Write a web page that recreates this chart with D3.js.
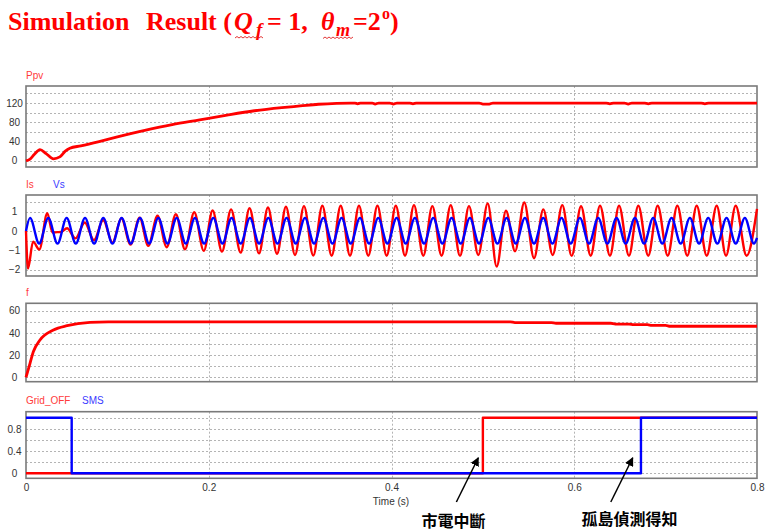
<!DOCTYPE html>
<html><head><meta charset="utf-8">
<script src="https://cdn.jsdelivr.net/npm/d3@7/dist/d3.min.js"></script>
<style>body{margin:0;background:#fff}svg{display:block}</style>
</head><body>
<svg id="c" width="767" height="531"></svg>
<script>
// ---------------- data ----------------
const xTicks = [0, 0.2, 0.4, 0.6, 0.8];
const ppvTicks = [0, 40, 80, 120];
const isTicks = [-2, -1, 0, 1];
const fTicks = [0, 20, 40, 60];
const swTicks = [0, 0.4, 0.8];

const ppvT = [0, 0.004, 0.009, 0.0153, 0.022, 0.030, 0.037, 0.043, 0.048, 0.06, 0.08, 0.10, 0.13, 0.16, 0.19, 0.22, 0.25, 0.28, 0.30, 0.32, 0.34, 0.355, 0.36, 0.363, 0.366, 0.379, 0.382, 0.386, 0.398, 0.402, 0.406, 0.42, 0.4235, 0.427, 0.496, 0.5, 0.507, 0.511, 0.635, 0.639, 0.643, 0.655, 0.659, 0.663, 0.677, 0.681, 0.685, 0.739, 0.743, 0.747, 0.8];
const ppvV = [0, 3, 13, 23, 15, 4, 8, 20, 26, 31, 40, 49.5, 63, 75, 85, 95, 104, 110.5, 114, 117.5, 119.5, 120, 120, 118.5, 120, 120, 118, 120, 120, 118, 120, 120, 118.5, 120, 120, 118, 118, 120, 120, 118.5, 120, 120, 118, 120, 120, 118.5, 120, 120, 118.5, 120, 120];

// Is: extrema (time, value)
const isT = [0, 0.0022, 0.0077, 0.0146, 0.0233, 0.029, 0.034, 0.0383, 0.0449, 0.0542, 0.0643, 0.0744, 0.0845, 0.0946, 0.1044, 0.1144, 0.1244, 0.1338, 0.1439, 0.154, 0.164, 0.174, 0.1841, 0.1946, 0.2042, 0.2145, 0.2244, 0.2349, 0.2446, 0.255, 0.2648, 0.2747, 0.2845, 0.2944, 0.3042, 0.3144, 0.3243, 0.3345, 0.3444, 0.3546, 0.3644, 0.3746, 0.3846, 0.3947, 0.4047, 0.4148, 0.4246, 0.4348, 0.4447, 0.4548, 0.4648, 0.475, 0.4848, 0.495, 0.5053, 0.5151, 0.5253, 0.5352, 0.5453, 0.556, 0.5661, 0.5764, 0.5869, 0.5972, 0.6074, 0.618, 0.6282, 0.6391, 0.649, 0.6599, 0.6701, 0.681, 0.6913, 0.7023, 0.7128, 0.7237, 0.734, 0.745, 0.7559, 0.7661, 0.7767, 0.7886, 0.8];
const isV = [0, -1.95, -0.55, -0.96, 0.92, -0.08, -0.06, -0.05, 0.14, -0.38, 0.44, -0.47, 0.57, -0.6, 0.66, -0.7, 0.69, -0.77, 0.79, -0.84, 0.87, -0.95, 0.97, -1.03, 1.06, -1.07, 1.12, -1.12, 1.18, -1.16, 1.22, -1.18, 1.26, -1.24, 1.29, -1.27, 1.31, -1.28, 1.31, -1.28, 1.31, -1.28, 1.31, -1.28, 1.31, -1.28, 1.34, -1.28, 1.29, -1.28, 1.34, -1.29, 1.29, -1.24, 1.43, -1.84, 1.05, -1.05, 1.48, -1.41, 1.12, -1.24, 1.34, -1.29, 1.28, -1.28, 1.31, -1.28, 1.31, -1.28, 1.31, -1.28, 1.31, -1.28, 1.31, -1.28, 1.31, -1.28, 1.31, -1.28, 1.31, -1.28, 1.15];

// Vs: extrema (time, value)
const vsT = [0, 0.0044, 0.0144, 0.0244, 0.0345, 0.0445, 0.0545, 0.0646, 0.0746, 0.0846, 0.0946, 0.1047, 0.1147, 0.1248, 0.1348, 0.1448, 0.1548, 0.1649, 0.1749, 0.1849, 0.1949, 0.2050, 0.2150, 0.2250, 0.2350, 0.2451, 0.2551, 0.2652, 0.2752, 0.2852, 0.2952, 0.3053, 0.3153, 0.3254, 0.3354, 0.3454, 0.3554, 0.3655, 0.3755, 0.3855, 0.3955, 0.4056, 0.4156, 0.4256, 0.4356, 0.4457, 0.4557, 0.4658, 0.4758, 0.4858, 0.4958, 0.5059, 0.5159, 0.5260, 0.5360, 0.5460, 0.5560, 0.5661, 0.5761, 0.5861, 0.5961, 0.6062, 0.6162, 0.6262, 0.6362, 0.6463, 0.6563, 0.6664, 0.6764, 0.6864, 0.6964, 0.7065, 0.7165, 0.7266, 0.7366, 0.7466, 0.7566, 0.7667, 0.7767, 0.7867, 0.7967, 0.8];
const vsV = [0, 0.68, -0.65, 0.68, -0.65, 0.68, -0.65, 0.68, -0.65, 0.68, -0.65, 0.68, -0.65, 0.68, -0.65, 0.68, -0.65, 0.68, -0.65, 0.68, -0.65, 0.68, -0.65, 0.68, -0.65, 0.68, -0.65, 0.68, -0.65, 0.68, -0.65, 0.68, -0.65, 0.68, -0.65, 0.68, -0.65, 0.68, -0.65, 0.68, -0.65, 0.68, -0.65, 0.68, -0.65, 0.68, -0.65, 0.68, -0.65, 0.68, -0.65, 0.68, -0.65, 0.68, -0.65, 0.68, -0.65, 0.68, -0.65, 0.68, -0.65, 0.68, -0.65, 0.68, -0.65, 0.68, -0.65, 0.68, -0.65, 0.68, -0.65, 0.68, -0.65, 0.68, -0.65, 0.68, -0.65, 0.68, -0.65, 0.68, -0.65, -0.35];

const fT = [0, 0.0044, 0.008, 0.0153, 0.03, 0.045, 0.07, 0.09, 0.53, 0.535, 0.575, 0.58, 0.64, 0.645, 0.66, 0.665, 0.68, 0.685, 0.70, 0.705, 0.8];
const fV = [0, 12.6, 23, 33.6, 42.6, 46.5, 49.5, 50, 50, 49.3, 49.3, 48.7, 48.7, 48, 48, 47.4, 47.4, 46.8, 46.8, 46, 46];

const gridOffT = [0, 0.5, 0.8];
const gridOffV = [0, 1, 1];
const smsT = [0, 0.05, 0.673, 0.8];
const smsV = [1, 0, 1, 1];

const zip = (a, b) => a.map((t, i) => [t, b[i]]);

// ---------------- drawing ----------------
const svg = d3.select("#c");
const x = d3.scaleLinear().domain([0, 0.8]).range([26, 757]);
const RED = "#ff0000", BLUE = "#0000ff";
const labelFont = "'Liberation Sans', Arial, sans-serif";

const panels = [
  {top: 86, bottom: 167, dom: [-13, 155.5], grid: d3.range(0, 141, 20), ticks: ppvTicks,
   labels: [["Ppv", "#ff3b3b", 26]], series: [[zip(ppvT, ppvV), RED, 2.8, d3.curveMonotoneX]]},
  {top: 195, bottom: 276, dom: [-2.33, 1.865], grid: d3.range(-2, 1.6, 0.5), ticks: isTicks,
   labels: [["Is", "#ff3b3b", 26], ["Vs", "#3b3bff", 53]],
   series: [[zip(isT, isV), RED, 2.4, d3.curveMonotoneX], [zip(vsT, vsV), BLUE, 2.4, d3.curveMonotoneX]]},
  {top: 303.3, bottom: 381.7, dom: [-4, 66.7], grid: d3.range(0, 61, 10), ticks: fTicks,
   labels: [["f", "#ff3b3b", 26]], series: [[zip(fT, fV), RED, 2.8, d3.curveMonotoneX]]},
  {top: 411.7, bottom: 478.3, dom: [-0.09, 1.109], grid: [0, 0.2, 0.4, 0.6, 0.8, 1.0], ticks: swTicks,
   labels: [["Grid_OFF", "#ff3b3b", 26], ["SMS", "#3b3bff", 82]],
   series: [[zip(gridOffT, gridOffV), RED, 2.4, d3.curveStepAfter], [zip(smsT, smsV), BLUE, 2.4, d3.curveStepAfter]]}
];

const yScales = [];
panels.forEach(p => {
  const y = d3.scaleLinear().domain(p.dom).range([p.bottom, p.top]);
  yScales.push(y);
  const g = svg.append("g");
  g.selectAll(".hg").data(p.grid).join("line")
    .attr("x1", x(0)).attr("x2", x(0.8))
    .attr("y1", d => Math.round(y(d)) + 0.5).attr("y2", d => Math.round(y(d)) + 0.5)
    .attr("stroke", "#b4b4b4").attr("stroke-width", 1).attr("stroke-dasharray", "2,2");
  g.selectAll(".vg").data(xTicks.slice(1, -1)).join("line")
    .attr("x1", d => Math.round(x(d)) + 0.5).attr("x2", d => Math.round(x(d)) + 0.5)
    .attr("y1", p.top).attr("y2", p.bottom)
    .attr("stroke", "#b4b4b4").attr("stroke-width", 1).attr("stroke-dasharray", "2,2");
  g.append("rect").attr("x", x(0)).attr("y", p.top).attr("width", x(0.8) - x(0)).attr("height", p.bottom - p.top)
    .attr("fill", "none").attr("stroke", "#7a7a7a").attr("stroke-width", 1.6);
  const ax = d3.axisLeft(y).tickValues(p.ticks).tickSize(0).tickPadding(0).tickFormat(d3.format(""));
  const axg = g.append("g").attr("transform", "translate(14.5,0)").call(ax);
  axg.select(".domain").remove();
  axg.selectAll("text").attr("text-anchor", "middle").attr("fill", "#333")
    .style("font-family", labelFont).style("font-size", "10px");
  p.labels.forEach(([t, c, lx]) => {
    g.append("text").attr("x", lx).attr("y", p.top - 7.5).attr("fill", c)
      .style("font-family", labelFont).style("font-size", "10px").text(t);
  });
  p.series.forEach(([data, color, w, curve]) => {
    const line = d3.line().x(d => x(d[0])).y(d => y(d[1])).curve(curve);
    g.append("path").attr("d", line(data)).attr("fill", "none").attr("stroke", color)
      .attr("stroke-width", w).attr("stroke-linejoin", "round");
  });
});

// x axis
const xa = d3.axisBottom(x).tickValues(xTicks).tickSize(0).tickPadding(0).tickFormat(d3.format(""));
const xag = svg.append("g").attr("transform", "translate(0,484)").call(xa);
xag.select(".domain").remove();
xag.selectAll("text").attr("fill", "#333").style("font-family", labelFont).style("font-size", "10px");
svg.append("text").attr("x", 391).attr("y", 505).attr("text-anchor", "middle").attr("fill", "#333")
  .style("font-family", labelFont).style("font-size", "10px").text("Time (s)");

// title
const title = svg.append("text").attr("y", 30).attr("fill", RED)
  .style("font-family", "'Liberation Serif','Times New Roman',serif").style("font-weight", "bold")
  .style("font-size", "26px").style("white-space", "pre");
const tparts = [
  {t: "Simulation", x: 8},
  {t: "Result (", x: 146},
  {t: "Q", x: 234, it: true},
  {t: "f", x: 256, it: true, fs: 19, dy: 6},
  {t: "= 1,", x: 267, dy: -6},
  {t: "θ", x: 321, it: true},
  {t: "m", x: 336, it: true, fs: 18, dy: 6},
  {t: "=2", x: 353, dy: -6},
  {t: "o", x: 382, fs: 16, dy: -11},
  {t: ")", x: 390, dy: 11}
];
tparts.forEach(p => {
  const s = title.append("tspan").attr("x", p.x).text(p.t);
  if (p.dy) s.attr("dy", p.dy);
  if (p.it) s.style("font-style", "italic");
  if (p.fs) s.style("font-size", p.fs + "px");
});

function wavy(x0, x1, yy) {
  let d = `M${x0},${yy}`;
  let up = true;
  for (let xx = x0 + 2; xx <= x1; xx += 2) { d += `L${xx},${up ? yy - 1.5 : yy}`; up = !up; }
  svg.append("path").attr("d", d).attr("fill", "none").attr("stroke", "#e02020").attr("stroke-width", 0.9);
}
wavy(235, 263, 38);
wavy(323, 353, 38.5);

// annotations
const defs = svg.append("defs");
defs.append("marker").attr("id", "ah").attr("viewBox", "0 0 10 10").attr("refX", 9).attr("refY", 5)
  .attr("markerWidth", 6).attr("markerHeight", 6).attr("orient", "auto")
  .append("path").attr("d", "M0,0L10,5L0,10z").attr("fill", "#000");
const y4 = yScales[3];
const ann = [
  {text: "市電中斷", tipT: 0.495, tailT: 0.471, tx: 421.5, ty: 527},
  {text: "孤島偵測得知", tipT: 0.664, tailT: 0.640, tx: 581.5, ty: 525}
];
ann.forEach(a => {
  svg.append("line").attr("x1", x(a.tailT)).attr("y1", 502).attr("x2", x(a.tipT)).attr("y2", y4(0.28))
    .attr("stroke", "#000").attr("stroke-width", 1.5).attr("marker-end", "url(#ah)");
  svg.append("text").attr("x", a.tx).attr("y", a.ty).attr("fill", "#000")
    .style("font-family", "'Noto Sans CJK TC','Noto Sans CJK SC',sans-serif").style("font-weight", "bold")
    .style("font-size", "16px").text(a.text);
});
</script>
</body></html>
